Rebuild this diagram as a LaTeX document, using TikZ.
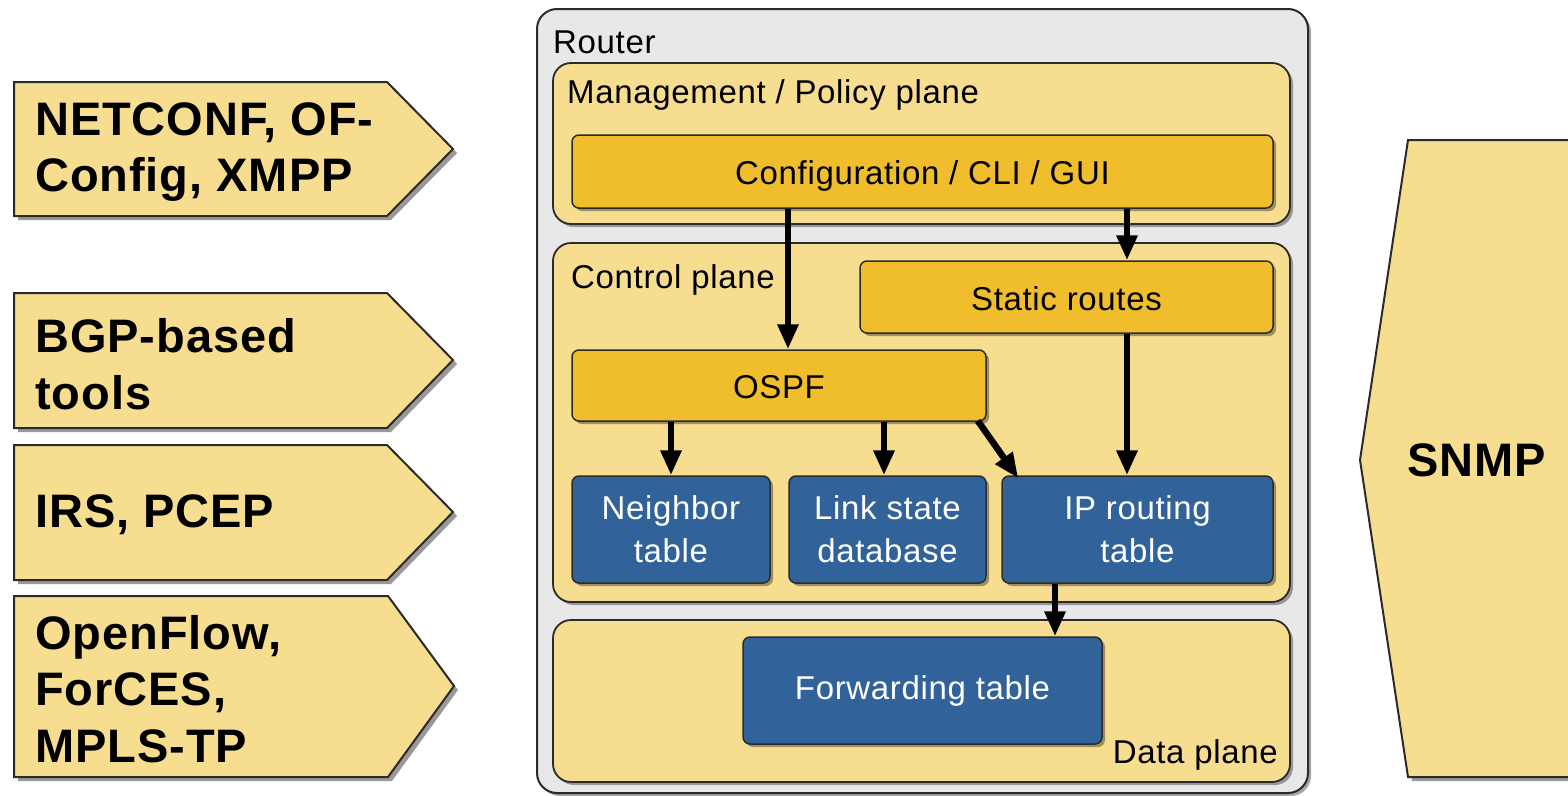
\documentclass[tikz,border=0pt]{standalone}
\usepackage{fontspec}
\setmainfont[LetterSpace=2]{Liberation Sans}
\usetikzlibrary{arrows.meta,shadows,calc}
\definecolor{lightyel}{HTML}{F7DD90}
\definecolor{darkyel}{HTML}{F0BE2D}
\definecolor{boxblue}{HTML}{31639A}
\definecolor{routergray}{HTML}{E8E8E8}
\definecolor{edgec}{HTML}{2B2B2B}
\tikzset{
  shd/.style={drop shadow={shadow xshift=3pt,shadow yshift=-3pt,opacity=0.35,fill=black}},
  txt/.style={font=\fontsize{33}{43}\selectfont},
  routerbox/.style={draw=edgec,line width=2pt,fill=routergray,rounded corners=20pt,inner sep=0pt,shd},
  plane/.style={draw=edgec,line width=1.8pt,fill=lightyel,rounded corners=18pt,inner sep=0pt,shd},
  ybox/.style={draw=edgec,line width=1.5pt,fill=darkyel,rounded corners=7pt,inner sep=0pt,text height=26pt,text depth=0pt,shd,txt},
  bbox/.style={draw=edgec,line width=1.5pt,fill=boxblue,rounded corners=7pt,inner sep=0pt,shd,txt,text=white,align=center},
  ttl/.style={txt,inner sep=0pt},
  lblock/.style={draw=edgec,line width=2pt,fill=lightyel,drop shadow={shadow xshift=4pt,shadow yshift=-4pt,opacity=0.4,fill=black}},
  lbl/.style={font=\fontsize{47}{56.5}\bfseries\selectfont,align=left,inner sep=0pt},
  arr/.style={line width=6.5pt,-{Triangle[length=25pt,width=20pt]}},
}
\begin{document}
\begin{tikzpicture}[x=1pt,y=-1pt]
\useasboundingbox (0,0) rectangle (1568,795);

% left protocol arrows
\draw[lblock] (14,82) -- (387,82) -- (453,149) -- (387,216) -- (14,216) -- cycle;
\node[lbl,anchor=west] (netconf) at (35,152) {NETCONF, OF-\\Config, XMPP};
\draw[lblock] (14,293) -- (387,293) -- (453,360) -- (387,428) -- (14,428) -- cycle;
\node[lbl,anchor=west] (bgp) at (35,364) {BGP-based\\tools};
\draw[lblock] (14,445) -- (387,445) -- (453,512) -- (387,580) -- (14,580) -- cycle;
\node[lbl,anchor=west] (irs) at (35,515) {IRS, PCEP};
\draw[lblock] (14,596) -- (388,596) -- (454,686) -- (388,777) -- (14,777) -- cycle;
\node[lbl,anchor=west] (openflow) at (35,689) {OpenFlow,\\ForCES,\\MPLS-TP};

% SNMP
\begin{scope}
\clip (0,0) rectangle (1568,795);
\draw[lblock] (1620,140) -- (1408,140) -- (1360,460) -- (1408,777) -- (1620,777) -- cycle;
\end{scope}
\node[lbl] (snmp) at (1477,460) {SNMP};

% router
\node[routerbox,minimum width=771pt,minimum height=784pt] (router) at (922.5,401) {};
\node[ttl,anchor=base west] (routerlbl) at (553,53) {Router};

% management plane
\node[plane,minimum width=737pt,minimum height=161pt] (mgmt) at (921.5,143.5) {};
\node[ttl,anchor=base west] (mgmtlbl) at (567,103) {Management / Policy plane};
\node[ybox,minimum width=701pt,minimum height=73pt] (config) at (922.5,171.5) {Configuration / CLI / GUI};

% control plane
\node[plane,minimum width=737pt,minimum height=359pt] (control) at (921.5,422.5) {};
\node[ttl,anchor=base west] (controllbl) at (571,288) {Control plane};
\node[ybox,minimum width=413pt,minimum height=72pt] (static) at (1066.5,297) {Static routes};
\node[ybox,minimum width=414pt,minimum height=71pt] (ospf) at (779,385.5) {OSPF};
\node[bbox,minimum width=198pt,minimum height=107pt] (neighbor) at (671,529.5) {Neighbor\\table};
\node[bbox,minimum width=197pt,minimum height=107pt] (linkstate) at (887.5,529.5) {Link state\\database};
\node[bbox,minimum width=271pt,minimum height=107pt] (iprt) at (1137.5,529.5) {IP routing\\table};

% data plane
\node[plane,minimum width=737pt,minimum height=162pt] (data) at (921.5,701) {};
\node[ttl,anchor=base east] (datalbl) at (1278,763) {Data plane};
\node[bbox,minimum width=359pt,minimum height=107pt] (fwd) at (922.5,690.5) {Forwarding table};

% connectors
\coordinate (c1) at ([xshift=9pt]ospf.north);
\draw[arr] (config.south -| c1) -- (c1);
\coordinate (c2) at ([xshift=60.5pt]static.north);
\draw[arr] (config.south -| c2) -- (c2);
\coordinate (c3) at ([xshift=-10.5pt]iprt.north);
\draw[arr] (static.south -| c3) -- (c3);
\draw[arr] (ospf.south -| neighbor.north) -- (neighbor.north);
\coordinate (c4) at ([xshift=-3.5pt]linkstate.north);
\draw[arr] (ospf.south -| c4) -- (c4);
\draw[arr] ([xshift=-9pt,yshift=1pt]ospf.south east) -- ([xshift=17pt,yshift=-3pt]iprt.north west);
\coordinate (c5) at ([xshift=-82.5pt]iprt.south);
\draw[arr] (c5) -- (fwd.north -| c5);
\end{tikzpicture}
\end{document}
